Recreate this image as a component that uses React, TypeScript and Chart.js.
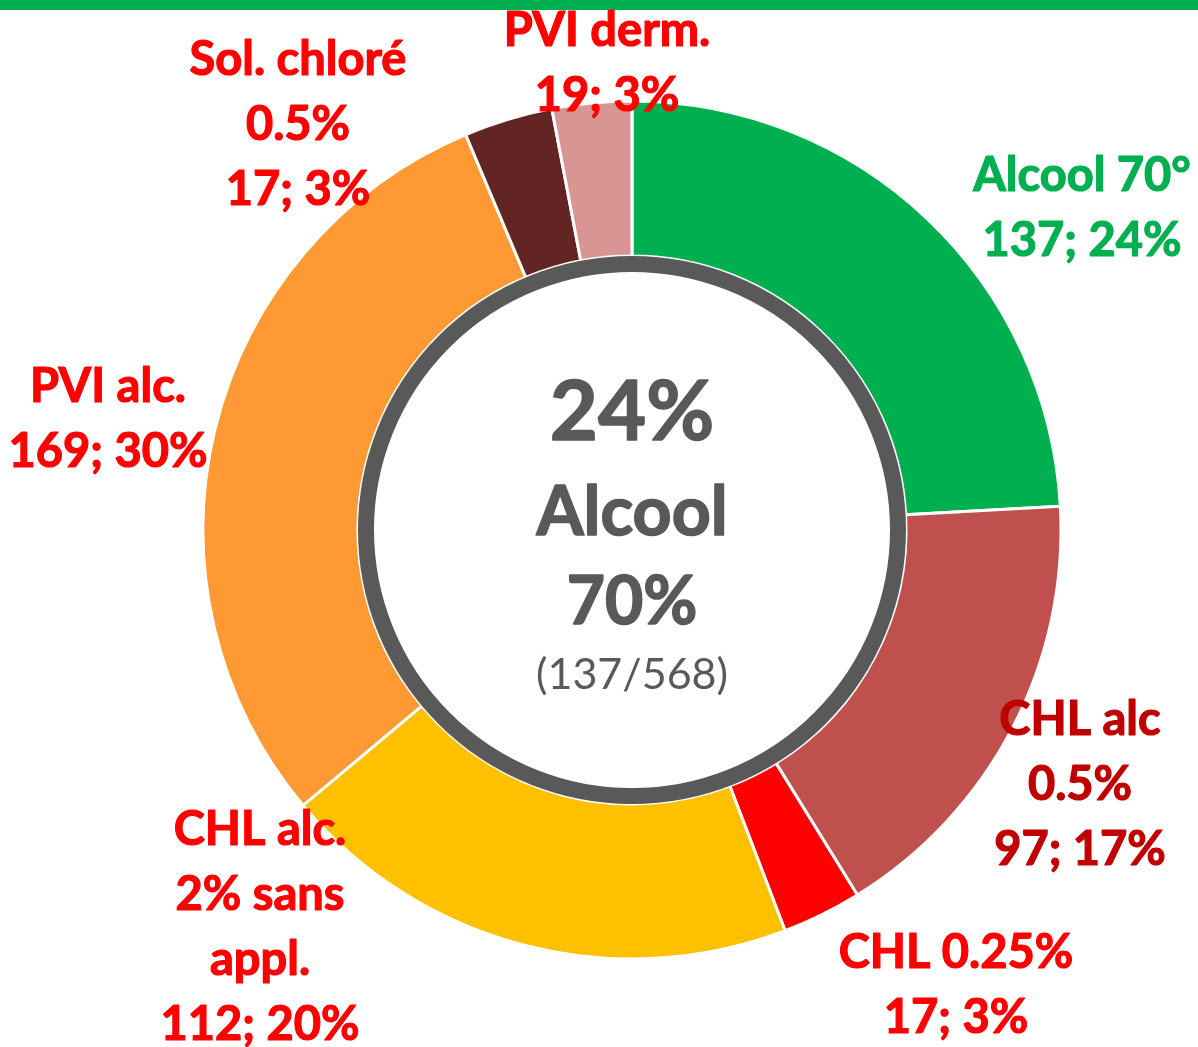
import React, { useEffect, useRef } from "react";
import Chart from "chart.js/auto";

const categories = [
  "Alcool 70°",
  "CHL alc 0.5%",
  "CHL 0.25%",
  "CHL alc. 2% sans appl.",
  "PVI alc.",
  "PVI derm.",
  "Sol. chloré 0.5%",
];
const counts = [137, 97, 17, 112, 169, 19, 17];
const percents = [24, 17, 3, 20, 30, 3, 3];
const labelLines = [
  ["Alcool 70°"],
  ["CHL alc", "0.5%"],
  ["CHL 0.25%"],
  ["CHL alc.", "2% sans", "appl."],
  ["PVI alc."],
  ["PVI derm."],
  ["Sol. chloré", "0.5%"],
];
const sliceColors = ["#00B050", "#C0504D", "#FF0000", "#FFC000", "#FF9933", "#632523", "#D99594"];
const labelColors = ["#00B050", "#C00000", "#FF0000", "#FF0000", "#FF0000", "#FF0000", "#FF0000"];
// label block centres, relative to the doughnut centre (px)
const labelOffsets = [
  [450, -323],
  [448, 253],
  [324, 454],
  [-372, 396],
  [-524, -112],
  [-25, -468],
  [-334, -407],
];
const centerLines = ["24%", "Alcool", "70%", "(137/568)"];

const W = 1198;
const H = 1047;
const CX = 632;
const CY = 530;
const R = 429;
const BORDER = 3;

const FONT = "Lato, 'Noto Sans', sans-serif";

const overlayPlugin = {
  id: "overlay",
  afterDatasetsDraw(chart: any) {
    const ctx = chart.ctx as CanvasRenderingContext2D;
    const arc = chart.getDatasetMeta(0).data[0] as any;
    const cx = arc.x;
    const cy = arc.y;
    ctx.save();
    // gray ring
    ctx.beginPath();
    ctx.arc(cx, cy, 266, 0, Math.PI * 2);
    ctx.lineWidth = 16;
    ctx.strokeStyle = "#595959";
    ctx.stroke();

    // centre text
    ctx.fillStyle = "#595959";
    ctx.strokeStyle = "#595959";
    ctx.lineJoin = "round";
    ctx.textAlign = "center";
    ctx.textBaseline = "alphabetic";
    const centerSpecs = [
      { t: centerLines[0], size: 83, bold: true, cap: 410 },
      { t: centerLines[1], size: 68, bold: true, cap: 511 },
      { t: centerLines[2], size: 66, bold: true, cap: 600 },
      { t: centerLines[3], size: 43, bold: false, cap: 674 },
    ];
    centerSpecs.forEach((s) => {
      ctx.font = `${s.bold ? "bold " : ""}${s.size}px ${FONT}`;
      const y = s.cap - CY + cy + s.size * 0.36;
      ctx.fillText(s.t, cx, y);
      if (s.bold) {
        ctx.lineWidth = 1.6;
        ctx.strokeText(s.t, cx, y);
      }
    });

    // labels
    const size = 47;
    const lh = 65;
    ctx.font = `bold ${size}px ${FONT}`;
    ctx.lineWidth = 1.2;
    categories.forEach((_, i) => {
      const lines = [...labelLines[i], `${counts[i]}; ${percents[i]}%`];
      const bx = cx + labelOffsets[i][0];
      const by = cy + labelOffsets[i][1];
      ctx.fillStyle = labelColors[i];
      ctx.strokeStyle = labelColors[i];
      lines.forEach((ln, j) => {
        const capCenter = by + (j - (lines.length - 1) / 2) * lh;
        const y = capCenter + size * 0.36;
        ctx.fillText(ln, bx, y);
        ctx.strokeText(ln, bx, y);
      });
    });
    ctx.restore();
  },
};

export default function App() {
  const ref = useRef<HTMLCanvasElement>(null);
  useEffect(() => {
    if (!ref.current) return;
    const half = R + BORDER / 2;
    const chart = new Chart(ref.current, {
      type: "doughnut",
      data: {
        labels: categories,
        datasets: [
          {
            data: counts,
            backgroundColor: sliceColors,
            borderColor: "#FFFFFF",
            borderWidth: BORDER,
            hoverOffset: 0,
          },
        ],
      },
      options: {
        responsive: false,
        maintainAspectRatio: false,
        animation: false,
        devicePixelRatio: 1,
        cutout: 274,
        layout: {
          padding: {
            left: CX - half,
            right: W - CX - half,
            top: CY - half,
            bottom: H - CY - half,
          },
        },
        plugins: {
          legend: { display: false },
          tooltip: { enabled: false },
          title: { display: false },
        },
        events: [],
      },
      plugins: [overlayPlugin],
    });
    return () => chart.destroy();
  }, []);
  return (
    <div style={{ position: "fixed", left: 0, top: 0, width: W, height: H, background: "#fff" }}>
      <div style={{ position: "absolute", left: 0, top: 0, width: W, height: 10, background: "#00B050" }} />
      <canvas ref={ref} width={W} height={H} style={{ position: "absolute", left: 0, top: 0 }} />
    </div>
  );
}
